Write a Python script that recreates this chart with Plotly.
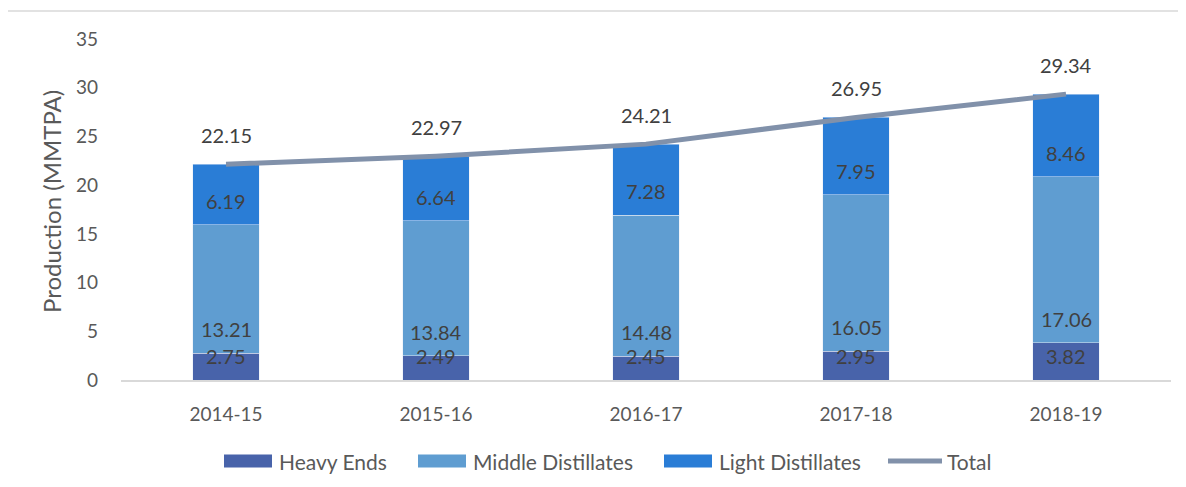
import plotly.graph_objects as go

years = ["2014-15", "2015-16", "2016-17", "2017-18", "2018-19"]
heavy_ends = [2.75, 2.49, 2.45, 2.95, 3.82]
middle_distillates = [13.21, 13.84, 14.48, 16.05, 17.06]
light_distillates = [6.19, 6.64, 7.28, 7.95, 8.46]
total = [22.15, 22.97, 24.21, 26.95, 29.34]

C_HEAVY = "#4863AA"
C_MID = "#5F9DD1"
C_LIGHT = "#2A7DD6"
C_TOTAL = "#8191AA"
FONT = "Lato"
LBL = "#404040"
TICK = "#595959"

# page is rendered with an 8px body margin; work in page pixels and convert
OFF = 8
W, H = 1186 - OFF, 487 - OFF
PL, PR, PT, PB = 121, 1171, 39, 380  # plot area in page pixels
L, T = PL - OFF, PT - OFF
R = W - (PR - OFF)
B = H - (PB - OFF)
pw, ph = W - L - R, H - T - B


def px(xp):
    return (xp - OFF - L) / pw


def py(yp):
    return (H - B - (yp - OFF)) / ph


fig = go.Figure()
bar_w = 0.315
fig.add_trace(go.Bar(name="Heavy Ends", x=years, y=heavy_ends, marker_color=C_HEAVY, width=bar_w, showlegend=False))
fig.add_trace(go.Bar(name="Middle Distillates", x=years, y=middle_distillates, marker_color=C_MID, width=bar_w, showlegend=False))
fig.add_trace(go.Bar(name="Light Distillates", x=years, y=light_distillates, marker_color=C_LIGHT, width=bar_w, showlegend=False))
fig.add_trace(go.Scatter(name="Total", x=years, y=total, mode="lines",
                         line=dict(color=C_TOTAL, width=5), showlegend=False))

ann = []
for i, yr in enumerate(years):
    bases = [0, heavy_ends[i], heavy_ends[i] + middle_distillates[i]]
    vals = [heavy_ends[i], middle_distillates[i], light_distillates[i]]
    for b, v in zip(bases, vals):
        ann.append(dict(x=yr, y=b, xref="x", yref="y", text=f"{v:.2f}", showarrow=False,
                        yanchor="middle", yshift=24, font=dict(family=FONT, size=20, color=LBL)))
    ann.append(dict(x=yr, y=total[i], xref="x", yref="y", text=f"{total[i]:.2f}", showarrow=False,
                    yanchor="middle", yshift=29, font=dict(family=FONT, size=20, color=LBL)))

# y-axis title
ann.append(dict(x=px(51), y=py(202), xref="paper", yref="paper", text="Production (MMTPA)", showarrow=False,
                textangle=-90, xanchor="center", yanchor="middle",
                font=dict(family=FONT, size=24, color=TICK)))

shapes = []
leg_y = 461
items = [("Heavy Ends", C_HEAVY, 224, "bar"), ("Middle Distillates", C_MID, 418, "bar"),
         ("Light Distillates", C_LIGHT, 664, "bar"), ("Total", C_TOTAL, 888, "line")]
for name, col, x0, kind in items:
    if kind == "bar":
        shapes.append(dict(type="rect", xref="paper", yref="paper", x0=px(x0), x1=px(x0 + 48),
                           y0=py(leg_y + 6.5), y1=py(leg_y - 6.5), fillcolor=col, line_width=0))
        tx = x0 + 53
    else:
        shapes.append(dict(type="line", xref="paper", yref="paper", x0=px(x0), x1=px(x0 + 54),
                           y0=py(leg_y), y1=py(leg_y), line=dict(color=col, width=5)))
        tx = x0 + 57
    ann.append(dict(x=px(tx), y=py(leg_y), xref="paper", yref="paper", text=name, showarrow=False,
                    xanchor="left", yanchor="middle", font=dict(family=FONT, size=21, color=TICK)))

# chart border
shapes.append(dict(type="rect", xref="paper", yref="paper", x0=px(7), x1=px(1250), y0=py(560), y1=py(11),
                   line=dict(color="#D9D9D9", width=1.5), fillcolor="rgba(0,0,0,0)", layer="below"))

fig.update_layout(
    barmode="stack",
    width=W, height=H,
    margin=dict(l=L, r=R, t=T, b=B),
    paper_bgcolor="white", plot_bgcolor="white",
    font=dict(family=FONT, color=TICK),
    showlegend=False,
    annotations=ann,
    shapes=shapes,
    xaxis=dict(range=[-0.5, 4.5], showline=True, linecolor="#D9D9D9", linewidth=2,
               showgrid=False, ticks="", tickfont=dict(family=FONT, size=19, color=TICK),
               ticklabelstandoff=16, automargin=False),
    yaxis=dict(range=[0, 35], dtick=5, tick0=0, showline=False, showgrid=False, zeroline=False,
               ticks="", tickfont=dict(family=FONT, size=19, color=TICK),
               ticklabelstandoff=22, automargin=False),
)

fig.write_html("out.html")
